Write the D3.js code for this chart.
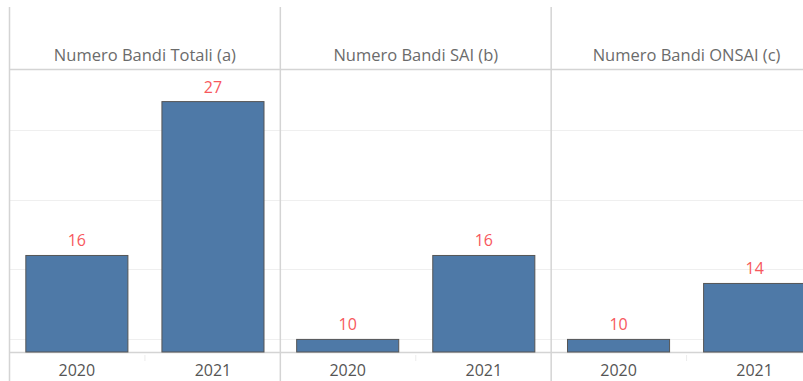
<!DOCTYPE html>
<html>
<head>
<meta charset="utf-8">
<script src="https://cdn.jsdelivr.net/npm/d3@7"></script>
<style>
  html, body { margin: 0; padding: 0; background: #fff; }
  svg { display: block; }
  text { font-family: "Open Sans", "Noto Sans", sans-serif; }
</style>
</head>
<body>
<svg id="chart" width="803" height="381"></svg>
<script>
// Panels (measures) and years
const measures = ["Numero Bandi Totali (a)", "Numero Bandi SAI (b)", "Numero Bandi ONSAI (c)"];
const years = ["2020", "2021"];
// Values per measure, in year order
const totali = [16, 27];
const sai = [10, 16];
const onsai = [10, 14];
const gridTicks = [10, 15, 20, 25];

const seriesByMeasure = [totali, sai, onsai];

const W = 803, H = 381;
const headerTop = 7, headerLine = 69, baseline = 352;

const svg = d3.select("#chart");

const xPanel = d3.scaleBand().domain(measures).range([9.5, 822]);
const panelW = xPanel.bandwidth();
const xYear = d3.scaleBand().domain(years).range([0, panelW]).paddingInner(0.25).paddingOuter(0.12);
const y = d3.scaleLinear().domain([9.1, 29.33]).range([baseline, headerLine]);

const gridColor = "#efefef";
const lineColor = "#d4d4d4";

// horizontal gridlines
svg.append("g").selectAll("line").data(gridTicks).join("line")
  .attr("x1", 9.5).attr("x2", W)
  .attr("y1", d => Math.round(y(d)) + 0.5).attr("y2", d => Math.round(y(d)) + 0.5)
  .attr("stroke", gridColor).attr("stroke-width", 1);

// header separator and axis baseline
svg.append("line").attr("x1", 9.5).attr("x2", W)
  .attr("y1", headerLine + 0.5).attr("y2", headerLine + 0.5)
  .attr("stroke", lineColor).attr("stroke-width", 1.5);
svg.append("line").attr("x1", 9.5).attr("x2", W)
  .attr("y1", baseline + 0.5).attr("y2", baseline + 0.5)
  .attr("stroke", lineColor).attr("stroke-width", 1.5);

// panels
const panels = svg.append("g").selectAll("g").data(measures).join("g")
  .attr("transform", d => `translate(${xPanel(d)},0)`);

// panel dividers
panels.append("line")
  .attr("x1", 0).attr("x2", 0).attr("y1", headerTop).attr("y2", H)
  .attr("stroke", lineColor).attr("stroke-width", 1.5);

// headers
panels.append("text")
  .attr("x", panelW / 2).attr("y", 61)
  .attr("text-anchor", "middle")
  .attr("font-size", 16.5).attr("fill", "#6b6b6b")
  .text(d => d);

// faint separators between year columns at the axis
panels.append("line")
  .attr("x1", xYear("2021") - xYear.step() * xYear.paddingInner() / 2)
  .attr("x2", xYear("2021") - xYear.step() * xYear.paddingInner() / 2)
  .attr("y1", baseline + 3).attr("y2", baseline + 9)
  .attr("stroke", "#ececec");

panels.each(function (m, i) {
  const g = d3.select(this);
  const vals = seriesByMeasure[i];
  const data = years.map((yr, j) => ({ yr, v: vals[j] }));

  g.selectAll("rect").data(data).join("rect")
    .attr("x", d => xYear(d.yr))
    .attr("y", d => y(d.v))
    .attr("width", xYear.bandwidth())
    .attr("height", d => baseline - y(d.v))
    .attr("fill", "#4e79a7")
    .attr("stroke", "#555")
    .attr("stroke-width", 1);

  g.selectAll("text.val").data(data).join("text")
    .attr("class", "val")
    .attr("x", d => xYear(d.yr) + xYear.bandwidth() / 2)
    .attr("y", d => y(d.v) - 9)
    .attr("text-anchor", "middle")
    .attr("font-size", 16).attr("fill", "#f7585d")
    .text(d => d.v);

  g.selectAll("text.yr").data(years).join("text")
    .attr("class", "yr")
    .attr("x", d => xYear(d) + xYear.bandwidth() / 2)
    .attr("y", 376)
    .attr("text-anchor", "middle")
    .attr("font-size", 16).attr("fill", "#555")
    .text(d => d);
});
</script>
</body>
</html>
